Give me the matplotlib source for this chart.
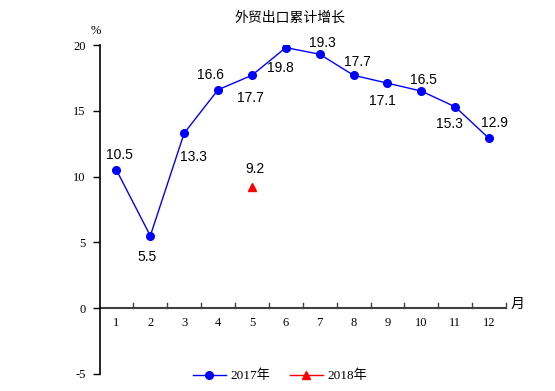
import matplotlib
matplotlib.use("Agg")
import matplotlib.pyplot as plt
from matplotlib.lines import Line2D

months = [1, 2, 3, 4, 5, 6, 7, 8, 9, 10, 11, 12]
month_labels = [str(m) for m in months]
values_2017 = [10.5, 5.5, 13.3, 16.6, 17.7, 19.8, 19.3, 17.7, 17.1, 16.5, 15.3, 12.9]
months_2018 = [5]
values_2018 = [9.2]
yticks = [-5, 0, 5, 10, 15, 20]
title = "外贸出口累计增长"

# label offsets in pixels (dx, dy)
offs_2017 = [(3, 15), (-3, -21), (9, -24), (-8, 15), (-1, -23), (-5, -20),
             (3, 11), (4, 13), (-5, -18), (2, 11), (-6, -17), (5, 15)]
offs_2018 = [(3, 18)]

W, H = 555, 391
fig = plt.figure(figsize=(W / 100, H / 100), dpi=100)
left, right, top, bottom = 99.5, 506, 45, 374
ax = fig.add_axes([left / W, (H - bottom) / H, (right - left) / W, (bottom - top) / H])

serif = ["Liberation Serif"]
cjk = ["Noto Sans CJK SC", "DejaVu Sans"]

ax.plot(months, values_2017, color="#0000FF", lw=1.0, marker="o", ms=5.5)
ax.plot(months_2018, values_2018, color="#FF0000", lw=1.0, marker="^", ms=6, linestyle="none")

for m, v, (dx, dy) in zip(months, values_2017, offs_2017):
    ax.annotate(f"{v}", (m, v), xytext=(dx, dy), textcoords="offset pixels",
                ha="center", va="center", fontsize=10, family="Liberation Sans")
for m, v, (dx, dy) in zip(months_2018, values_2018, offs_2018):
    ax.annotate(f"{v}", (m, v), xytext=(dx, dy), textcoords="offset pixels",
                ha="center", va="center", fontsize=10, family="Liberation Sans")

ax.set_xlim(0.5, 12.5)
ax.set_ylim(-5, 20)

for s in ["top", "right", "bottom"]:
    ax.spines[s].set_visible(False)
ax.spines["left"].set_linewidth(1.2)

ax.axhline(0, color="#404040", lw=1.5, zorder=1)
ax.set_yticks(yticks)
ax.set_yticklabels([str(t) for t in yticks], family=serif, fontsize=9)
ax.tick_params(axis="y", direction="out", length=5, width=1, pad=5)

ax.set_xticks([])
for b in [m + 0.5 for m in months]:
    ax.plot([b, b], [0, 0.38], color="#404040", lw=1, clip_on=False)
for m, lab in zip(months, month_labels):
    ax.annotate(lab, (m, 0), xytext=(0, -15), textcoords="offset pixels",
                ha="center", va="center", family=serif, fontsize=9)

fig.text(290 / W, 1 - 18 / H, title, ha="center", va="center", fontsize=10, family=cjk)
fig.text(96 / W, 1 - 31 / H, "%", ha="center", va="center", fontsize=9, family=serif)
fig.text(518 / W, 1 - 304 / H, "月", ha="center", va="center", fontsize=10, family=cjk)

handles = [Line2D([], [], color="#0000FF", lw=1.0, marker="o", ms=5.5),
           Line2D([], [], color="#FF0000", lw=1.0, marker="^", ms=6)]
leg = fig.legend(handles, ["2017年", "2018年"], loc="center", bbox_to_anchor=(280 / W, 1 - 376 / H),
                 ncol=2, frameon=False,
                 prop={"family": ["Liberation Serif", "Noto Sans CJK SC"], "size": 9.5},
                 handlelength=2.5, columnspacing=1.5, handletextpad=0.35)

fig.savefig("out.png", dpi=100)
